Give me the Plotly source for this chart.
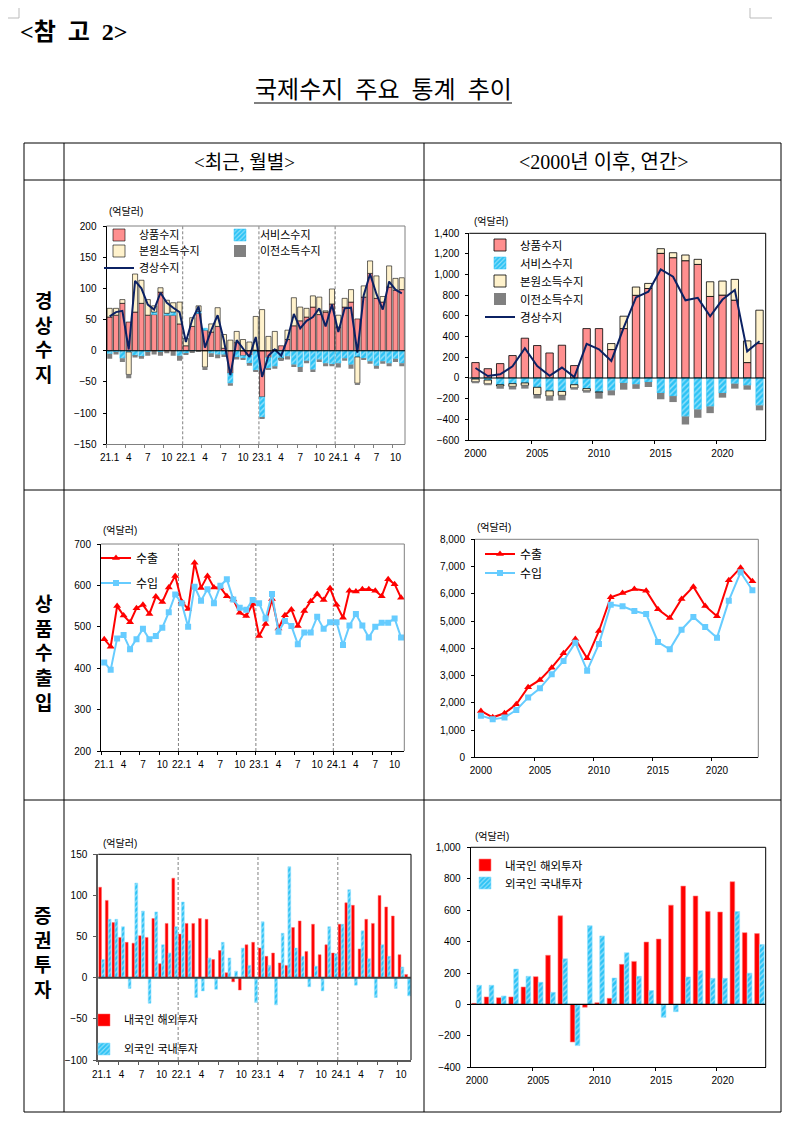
import plotly.graph_objects as go

# ---------------- data ----------------
months = ["21.1", "21.2", "21.3", "21.4", "21.5", "21.6", "21.7", "21.8", "21.9", "21.10", "21.11", "21.12",
          "22.1", "22.2", "22.3", "22.4", "22.5", "22.6", "22.7", "22.8", "22.9", "22.10", "22.11", "22.12",
          "23.1", "23.2", "23.3", "23.4", "23.5", "23.6", "23.7", "23.8", "23.9", "23.10", "23.11", "23.12",
          "24.1", "24.2", "24.3", "24.4", "24.5", "24.6", "24.7", "24.8", "24.9", "24.10", "24.11"]
years = ["2000", "2001", "2002", "2003", "2004", "2005", "2006", "2007", "2008", "2009", "2010", "2011",
         "2012", "2013", "2014", "2015", "2016", "2017", "2018", "2019", "2020", "2021", "2022", "2023"]

# current account, monthly (억달러)
goods_m = [54, 57, 76, 46, 62, 76, 57, 58, 94, 57, 57, 43,
           8, 39, 60, 33, 30, 39, 4, -36, 13, -8, -7, 1,
           -74, -11, 2, 8, 18, 40, 48, 54, 70, 58, 62, 75,
           38, 70, 78, 51, 86, 124, 84, 78, 102, 97, 98]
services_m = [-5, -2, -12, -2, -8, -10, -2, 4, -2, 3, 5, -8,
              -4, -1, 3, 3, -4, -6, -6, -16, -10, -4, -14, -32,
              -33, -18, -25, -12, -9, -22, -26, -16, -30, -14, -20, -22,
              -20, -12, -22, -10, -12, -17, -24, -17, -20, -13, -20]
primary_m = [14, 11, 6, -36, 61, 37, 25, 10, 7, 21, 15, 35,
             12, 14, 9, -26, 13, 30, 22, 17, 18, 18, 14, 54,
             66, 23, 29, -2, 15, 45, 22, 14, 18, 28, 2, 24,
             19, 14, 20, -42, 18, 20, 36, 9, 34, 19, 19]
secondary_m = [-8, -4, -6, -6, -3, -3, -6, -6, -6, -4, -8, -8,
               -2, -2, -1, -5, -6, -6, -4, -4, -4, -2, -3, -1,
               -1, -2, -4, -2, -5, -4, -8, -4, -4, -4, -5, -3,
               -7, -4, -7, -2, -3, -4, -5, -4, -5, -5, -5]
current_m = [55, 62, 64, 2, 112, 100, 74, 66, 93, 77, 69, 62,
             14, 50, 71, 5, 33, 57, 16, -39, 17, 4, -10, 22,
             -42, -8, 2, -8, 19, 59, 36, 48, 54, 68, 39, 74,
             30, 68, 69, -3, 89, 123, 91, 66, 111, 98, 92]

# current account, annual (억달러)
goods_y = [149, 90, 139, 217, 385, 314, 242, 317, 120, 478, 478, 275,
           478, 800, 866, 1206, 1164, 1135, 1099, 789, 802, 753, 149, 333]
services_y = [-10, -20, -65, -55, -48, -90, -125, -130, -65, -103, -135, -120,
              -48, -60, -39, -145, -175, -372, -304, -275, -145, -55, -71, -265]
primary_y = [-28, -38, -13, -26, -23, -70, -50, -38, -32, -23, -5, 58,
             120, 80, 49, 45, 48, 55, 49, 142, 136, 201, 210, 323]
secondary_y = [-14, -13, -25, -30, -32, -38, -45, -48, -16, -16, -60, -48,
               -65, -45, -48, -61, -58, -78, -81, -65, -45, -48, -42, -48]
current_y = [97, 19, 36, 113, 288, 116, 22, 101, 8, 330, 278, 165,
             488, 780, 835, 1050, 980, 752, 775, 597, 759, 852, 258, 355]

# goods exports / imports, monthly (억달러)
exports_m = [470, 452, 550, 527, 511, 545, 553, 531, 573, 560, 595, 623,
             561, 543, 655, 594, 623, 595, 595, 574, 566, 534, 526, 555,
             478, 507, 567, 496, 528, 542, 502, 538, 562, 579, 565, 593,
             553, 522, 587, 585, 591, 591, 587, 574, 615, 603, 570]
imports_m = [414, 396, 472, 480, 446, 470, 495, 470, 478, 498, 535, 578,
             557, 500, 597, 563, 591, 557, 599, 615, 566, 546, 541, 565,
             557, 520, 579, 488, 514, 502, 458, 486, 486, 524, 495, 511,
             511, 456, 503, 531, 503, 474, 500, 510, 510, 520, 474]

# goods exports / imports, annual (억달러)
exports_y = [1700, 1468, 1615, 1945, 2569, 2838, 3290, 3817, 4343, 3633, 4636, 5872,
             6031, 6177, 6116, 5431, 5113, 5810, 6263, 5554, 5174, 6495, 6960, 6459]
imports_y = [1529, 1394, 1456, 1737, 2190, 2532, 3046, 3535, 4208, 3180, 4159, 5602,
             5541, 5370, 5260, 4232, 3963, 4685, 5150, 4783, 4391, 5749, 6789, 6128]

# portfolio investment, monthly (억달러)
resident_m = [110, 94, 67, 49, 43, 42, 51, 49, 72, 17, 66, 121,
              53, 66, 66, 72, 71, 22, 33, 6, -5, -15, 40, 43,
              36, 26, 30, 18, 15, 61, 69, 32, 65, 28, 40, 30,
              65, 91, 88, 35, 71, 66, 100, 86, 75, 28, 4]
foreign_m = [22, 71, 71, 62, -13, 115, 81, -31, 80, 40, 30, 62,
             92, 45, -24, -16, 24, -14, 43, 24, 8, 36, 15, -30,
             68, 15, -33, 54, 135, 36, 26, -11, 14, -16, 62, 29,
             65, 107, -9, 57, 23, -24, 40, 26, -13, 13, -22]

# portfolio investment, annual (억달러)
resident_y = [7, 48, 43, 48, 111, 177, 313, 564, -239, -18, 11, 39,
              255, 274, 397, 416, 632, 753, 690, 592, 588, 781, 457, 451]
foreign_y = [122, 122, 54, 225, 179, 141, 77, 290, -262, 501, 436, 168,
             329, 179, 88, -82, -46, 175, 215, 166, 166, 591, 199, 381]

# ---------------- page geometry (browser body has an 8px margin) ----------------
OFF = 8
W, H = 798 - OFF, 1136 - OFF


def px(x):
    return (x - OFF) / W


def py(y):
    return 1 - (y - OFF) / H


FONT = "Arial, 'Noto Sans CJK KR', sans-serif"
SERIF = "'Liberation Serif', 'Noto Sans CJK KR', serif"
PINK = "#FF8F8F"
CREAM = "#FFF2CC"
GRAY = "#808080"
CYAN = "#2DC3F5"
NAVY = "#0B2163"
RED = "#FF0000"
SKY = "#66CCFF"

mpos = list(range(len(months)))
ypos = list(range(len(years)))
m_tickvals = [i for i, m in enumerate(months) if m.split(".")[1] in ("1", "4", "7", "10")]
m_ticktext = [months[i] if months[i].endswith(".1") else months[i].split(".")[1] for i in m_tickvals]
m_minor = [i - 0.5 for i in m_tickvals]
m_breaks = [i - 0.5 for i, m in enumerate(months) if m.endswith(".1") and i > 0]
y_tickvals = [i for i, y in enumerate(years) if int(y) % 5 == 0]
y_ticktext = [years[i] for i in y_tickvals]
y_minor = [i - 0.5 for i in y_tickvals if i > 0]

hatch = dict(shape="/", fgcolor="white", bgcolor=CYAN, size=4, solidity=0.35)

fig = go.Figure()
legend_cfg = {}
_leg_n = [0]


def new_legend(text_x, center_y, size=11):
    """one legend per entry so that each entry sits where the reference has it"""
    _leg_n[0] += 1
    key = "legend" if _leg_n[0] == 1 else f"legend{_leg_n[0]}"
    legend_cfg[key] = dict(x=px(text_x - 38), y=py(center_y - 12.5), xanchor="left", yanchor="top",
                           bgcolor="rgba(0,0,0,0)", borderwidth=0, itemwidth=30,
                           font=dict(size=size, family=FONT, color="black"),
                           itemclick=False, itemdoubleclick=False)
    return key


# ---- row 1 left : monthly current account ----
fig.add_trace(go.Bar(x=mpos, y=goods_m, name="상품수지", xaxis="x", yaxis="y",
                     legend=new_legend(137, 233), offsetgroup="a", width=0.8,
                     marker=dict(color=PINK, line=dict(color="black", width=0.6))))
fig.add_trace(go.Bar(x=mpos, y=services_m, name="서비스수지", xaxis="x", yaxis="y",
                     legend=new_legend(258, 233), offsetgroup="a", width=0.8,
                     marker=dict(color=CYAN, pattern=hatch, line=dict(color=CYAN, width=0.5))))
fig.add_trace(go.Bar(x=mpos, y=primary_m, name="본원소득수지", xaxis="x", yaxis="y",
                     legend=new_legend(137, 249), offsetgroup="a", width=0.8,
                     marker=dict(color=CREAM, line=dict(color="black", width=0.6))))
fig.add_trace(go.Bar(x=mpos, y=secondary_m, name="이전소득수지", xaxis="x", yaxis="y",
                     legend=new_legend(258, 249), offsetgroup="a", width=0.8,
                     marker=dict(color=GRAY, line=dict(width=0))))
fig.add_trace(go.Scatter(x=mpos, y=current_m, name="경상수지", xaxis="x", yaxis="y",
                         legend=new_legend(137, 266), mode="lines", line=dict(color=NAVY, width=2)))

# ---- row 1 right : annual current account ----
fig.add_trace(go.Bar(x=ypos, y=goods_y, name="상품수지", xaxis="x2", yaxis="y2",
                     legend=new_legend(518, 243, 11.5), offsetgroup="b", width=0.6,
                     marker=dict(color=PINK, line=dict(color="black", width=0.8))))
fig.add_trace(go.Bar(x=ypos, y=services_y, name="서비스수지", xaxis="x2", yaxis="y2",
                     legend=new_legend(518, 261, 11.5), offsetgroup="b", width=0.6,
                     marker=dict(color=CYAN, pattern=hatch, line=dict(color=CYAN, width=0.5))))
fig.add_trace(go.Bar(x=ypos, y=primary_y, name="본원소득수지", xaxis="x2", yaxis="y2",
                     legend=new_legend(518, 279, 11.5), offsetgroup="b", width=0.6,
                     marker=dict(color=CREAM, line=dict(color="black", width=0.8))))
fig.add_trace(go.Bar(x=ypos, y=secondary_y, name="이전소득수지", xaxis="x2", yaxis="y2",
                     legend=new_legend(518, 297, 11.5), offsetgroup="b", width=0.6,
                     marker=dict(color=GRAY, line=dict(width=0))))
fig.add_trace(go.Scatter(x=ypos, y=current_y, name="경상수지", xaxis="x2", yaxis="y2",
                         legend=new_legend(518, 315, 11.5), mode="lines", line=dict(color=NAVY, width=2)))

# ---- row 2 left : monthly exports / imports ----
fig.add_trace(go.Scatter(x=mpos, y=exports_m, name="수출", xaxis="x3", yaxis="y3",
                         legend=new_legend(134, 556, 12),
                         mode="lines+markers", line=dict(color=RED, width=2),
                         marker=dict(symbol="triangle-up", size=7, color=RED)))
fig.add_trace(go.Scatter(x=mpos, y=imports_m, name="수입", xaxis="x3", yaxis="y3",
                         legend=new_legend(134, 581, 12),
                         mode="lines+markers", line=dict(color=SKY, width=2),
                         marker=dict(symbol="square", size=6, color=SKY)))

# ---- row 2 right : annual exports / imports ----
fig.add_trace(go.Scatter(x=ypos, y=exports_y, name="수출", xaxis="x4", yaxis="y4",
                         legend=new_legend(518, 552, 12),
                         mode="lines+markers", line=dict(color=RED, width=2),
                         marker=dict(symbol="triangle-up", size=7, color=RED)))
fig.add_trace(go.Scatter(x=ypos, y=imports_y, name="수입", xaxis="x4", yaxis="y4",
                         legend=new_legend(518, 571, 12),
                         mode="lines+markers", line=dict(color=SKY, width=2),
                         marker=dict(symbol="square", size=6, color=SKY)))

# ---- row 3 left : monthly portfolio investment ----
fig.add_trace(go.Bar(x=mpos, y=resident_m, name="내국인 해외투자", xaxis="x5", yaxis="y5",
                     legend=new_legend(122, 1018), offsetgroup="c1", width=0.42, offset=-0.44,
                     marker=dict(color=RED, line=dict(color="#FF6666", width=0.5))))
fig.add_trace(go.Bar(x=mpos, y=foreign_m, name="외국인 국내투자", xaxis="x5", yaxis="y5",
                     legend=new_legend(122, 1047), offsetgroup="c2", width=0.42, offset=0.0,
                     marker=dict(color=CYAN, pattern=hatch, line=dict(color="#8FDFFF", width=0.6))))

# ---- row 3 right : annual portfolio investment ----
fig.add_trace(go.Bar(x=ypos, y=resident_y, name="내국인 해외투자", xaxis="x6", yaxis="y6",
                     legend=new_legend(503, 863, 11.5), offsetgroup="d1", width=0.38, offset=-0.40,
                     marker=dict(color=RED, line=dict(color="#FF8080", width=0.6))))
fig.add_trace(go.Bar(x=ypos, y=foreign_y, name="외국인 국내투자", xaxis="x6", yaxis="y6",
                     legend=new_legend(503, 881, 11.5), offsetgroup="d2", width=0.38, offset=0.0,
                     marker=dict(color=CYAN, pattern=hatch, line=dict(color="#8FDFFF", width=0.6))))

# ---------------- axes ----------------
TICKFONT = dict(size=10, family=FONT, color="black")


def xcfg(x0, x1, anchor, n, tv, tt, minor, color="black", lw=1):
    return dict(domain=[px(x0), px(x1)], anchor=anchor, range=[-0.5, n - 0.5],
                tickmode="array", tickvals=tv, ticktext=tt, ticks="", ticklabelstandoff=4,
                showline=True, linecolor=color, linewidth=lw, showgrid=False, zeroline=False,
                tickfont=TICKFONT, fixedrange=True,
                minor=dict(tickvals=minor, ticks="outside", ticklen=3, tickcolor=color, showgrid=False))


def ycfg(y0, y1, anchor, lo, hi, step, color="black", lw=1, fmt=""):
    return dict(domain=[py(y1), py(y0)], anchor=anchor, range=[lo, hi], tickmode="linear",
                tick0=lo, dtick=step, ticks="outside", ticklen=3, tickcolor=color, ticklabelstandoff=4,
                showline=True, linecolor=color, linewidth=lw, showgrid=False, zeroline=False,
                tickfont=TICKFONT, tickformat=fmt, fixedrange=True)


layout_axes = dict(
    xaxis=xcfg(106.5, 405, "y", len(months), m_tickvals, m_ticktext, m_minor, color=GRAY),
    yaxis=ycfg(226, 444.3, "x", -150, 200, 50),
    xaxis2=xcfg(469.3, 765.7, "y2", len(years), y_tickvals, y_ticktext, y_minor),
    yaxis2=ycfg(233.3, 440, "x2", -600, 1400, 200, fmt=","),
    xaxis3=xcfg(101, 404.3, "y3", len(months), m_tickvals, m_ticktext, m_minor),
    yaxis3=ycfg(544, 751, "x3", 200, 700, 100),
    xaxis4=xcfg(475, 758.3, "y4", len(years), y_tickvals, y_ticktext, y_minor),
    yaxis4=ycfg(539.3, 757.3, "x4", 0, 8000, 1000, fmt=","),
    xaxis5=xcfg(98.3, 411, "y5", len(months), m_tickvals, m_ticktext, m_minor, color="#595959", lw=2),
    yaxis5=ycfg(854.3, 1060, "x5", -100, 150, 50, color="#595959", lw=2),
    xaxis6=xcfg(470.7, 765.7, "y6", len(years), y_tickvals, y_ticktext, y_minor),
    yaxis6=ycfg(847.3, 1067.3, "x6", -400, 1000, 200, fmt=","),
)

# ---------------- shapes ----------------
shapes = []
frames = [("x", "y", GRAY, 1), ("x2", "y2", "black", 1), ("x3", "y3", GRAY, 1),
          ("x4", "y4", GRAY, 1), ("x5", "y5", "black", 1), ("x6", "y6", "black", 1)]
for xa, ya, c, w in frames:
    shapes.append(dict(type="line", xref=f"{xa} domain", yref=f"{ya} domain", x0=0, x1=1, y0=1, y1=1,
                       line=dict(color=c, width=w)))
    shapes.append(dict(type="line", xref=f"{xa} domain", yref=f"{ya} domain", x0=1, x1=1, y0=0, y1=1,
                       line=dict(color=c, width=w)))
for xa, ya, c, w in [("x", "y", "black", 1.2), ("x2", "y2", "black", 1.2),
                     ("x5", "y5", "#404040", 2), ("x6", "y6", "black", 1.2)]:
    shapes.append(dict(type="line", xref=f"{xa} domain", yref=ya, x0=0, x1=1, y0=0, y1=0,
                       line=dict(color=c, width=w), layer="above"))
for xa, ya in [("x", "y"), ("x3", "y3"), ("x5", "y5")]:
    for b in m_breaks:
        shapes.append(dict(type="line", xref=xa, yref=f"{ya} domain", x0=b, x1=b, y0=0, y1=1,
                           line=dict(color="#808080", width=1, dash="3px,2px"), layer="below"))

TL, TR, TT, TB = 24, 781, 143, 1112
for yy in (TT, 180, 490, 800, TB):
    shapes.append(dict(type="line", xref="paper", yref="paper", x0=px(TL), x1=px(TR), y0=py(yy), y1=py(yy),
                       line=dict(color="black", width=1)))
for xx in (TL, 64, 424, TR):
    shapes.append(dict(type="line", xref="paper", yref="paper", x0=px(xx), x1=px(xx), y0=py(TT), y1=py(TB),
                       line=dict(color="black", width=1)))
shapes.append(dict(type="line", xref="paper", yref="paper", x0=px(254), x1=px(512), y0=py(103), y1=py(103),
                   line=dict(color="black", width=1.2)))
for (a, b, c, d) in [(19, 8, 19, 18), (8, 18, 19, 18), (750, 8, 750, 18), (750, 18, 772, 18)]:
    shapes.append(dict(type="line", xref="paper", yref="paper", x0=px(a), x1=px(c), y0=py(b), y1=py(d),
                       line=dict(color="#BBBBBB", width=1)))

# ---------------- annotations ----------------
ann = []


def text(x, y, s, size, family=FONT, xanchor="center", bold=False, color="black"):
    ann.append(dict(x=px(x), y=py(y), xref="paper", yref="paper", text=f"<b>{s}</b>" if bold else s,
                    showarrow=False, xanchor=xanchor, yanchor="middle",
                    font=dict(size=size, family=family, color=color)))


text(18, 32, "&lt;참\u2002고\u20022&gt;", 24, family=SERIF, xanchor="left", bold=True)
text(383, 90, "국제수지\u2002주요\u2002통계\u2002추이", 24, family=SERIF)
text(244, 162, "&lt;최근, 월별&gt;", 19, family=SERIF)
text(604, 162, "&lt;2000년 이후, 연간&gt;", 20, family=SERIF)
text(43, 338, "경<br>상<br>수<br>지", 19, family=SERIF, bold=True)
text(43, 654, "상<br>품<br>수<br>출<br>입", 19, family=SERIF, bold=True)
text(43, 953, "증<br>권<br>투<br>자", 19, family=SERIF, bold=True)
for (x, y) in [(107, 211), (472, 222), (101, 530), (475, 527), (101, 843), (473, 836)]:
    text(x, y, "(억달러)", 10, xanchor="left")

fig.update_layout(
    width=W, height=H, margin=dict(l=0, r=0, t=0, b=0, autoexpand=False),
    paper_bgcolor="white", plot_bgcolor="white",
    barmode="relative", showlegend=True,
    shapes=shapes, annotations=ann,
    **layout_axes, **legend_cfg,
)

fig.write_html("out.html")
